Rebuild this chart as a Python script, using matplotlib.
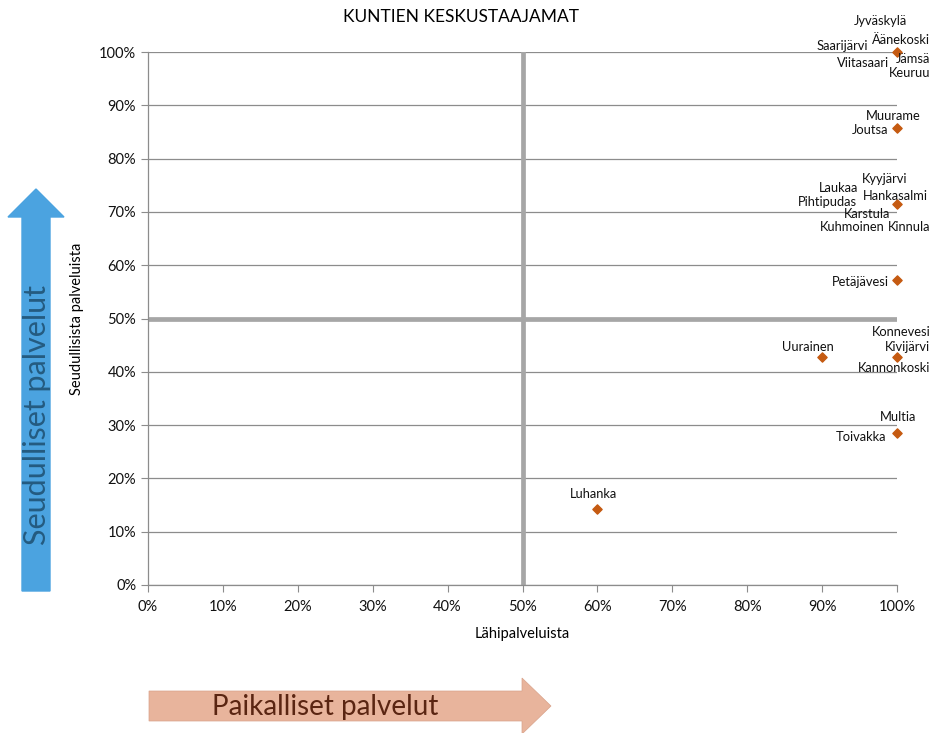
import matplotlib
matplotlib.use("Agg")
import matplotlib.pyplot as plt
from matplotlib.patches import FancyArrow
from matplotlib.ticker import PercentFormatter

plt.rcParams['font.family'] = ['Lato', 'DejaVu Sans']

# Data (percent)
points_x = [100, 100, 100, 100, 90, 100, 100, 60]
points_y = [100, 600/7, 500/7, 400/7, 300/7, 300/7, 200/7, 100/7]

# labels: (name, point index, dx, dy in points, ha)
labels = [
    ("Jyväskylä", 0, -12, 22, "center"),
    ("Äänekoski", 0, 24, 9, "right"),
    ("Saarijärvi", 0, -21, 4, "right"),
    ("Jämsä", 0, 24, -5, "right"),
    ("Viitasaari", 0, -6, -8, "right"),
    ("Keuruu", 0, 24, -15, "right"),
    ("Muurame", 1, -3, 9, "center"),
    ("Joutsa", 1, -6, -1, "right"),
    ("Kyyjärvi", 2, -9, 18, "center"),
    ("Laukaa", 2, -28, 12, "right"),
    ("Hankasalmi", 2, 22, 6, "right"),
    ("Pihtipudas", 2, -29, 2, "right"),
    ("Karstula", 2, -5, -7, "right"),
    ("Kuhmoinen", 2, -9, -16, "right"),
    ("Kinnula", 2, 24, -16, "right"),
    ("Petäjävesi", 3, -6, -1, "right"),
    ("Konnevesi", 5, 24, 18, "right"),
    ("Kivijärvi", 5, 24, 7, "right"),
    ("Kannonkoski", 5, 24, -8, "right"),
    ("Uurainen", 4, -10, 7, "center"),
    ("Multia", 6, -12, 11, "left"),
    ("Toivakka", 6, -8, -3, "right"),
    ("Luhanka", 7, -3, 11, "center"),
]

x_ticks = list(range(0, 101, 10))
y_ticks = list(range(0, 101, 10))

W, H = 934, 733
fig = plt.figure(figsize=(W/100, H/100), dpi=100)
ax = fig.add_axes([148/W, (H-585)/H, 749/W, 533/H])

ax.set_xlim(0, 100)
ax.set_ylim(0, 100)
ax.set_xticks(x_ticks)
ax.set_yticks(y_ticks)
ax.xaxis.set_major_formatter(PercentFormatter(decimals=0))
ax.yaxis.set_major_formatter(PercentFormatter(decimals=0))
ax.tick_params(axis='both', labelsize=10.5, color='#8c8c8c', length=5, direction='out', labelcolor='#111111')
ax.tick_params(axis='x', pad=6)
ax.grid(axis='y', color='#8c8c8c', linewidth=0.9)
ax.set_axisbelow(True)
for s in ['top', 'right']:
    ax.spines[s].set_visible(False)
for s in ['left', 'bottom']:
    ax.spines[s].set_color('#8c8c8c')
    ax.spines[s].set_linewidth(0.9)

# quadrant lines
ax.axvline(50, color='#a6a6a6', linewidth=3.4, zorder=2)
ax.axhline(50, color='#a6a6a6', linewidth=3.4, zorder=2)

ax.scatter(points_x, points_y, marker='D', s=22, color='#c55a11', zorder=4, clip_on=False)

for name, i, dx, dy, ha in labels:
    ax.annotate(name, (points_x[i], points_y[i]), xytext=(dx, dy), textcoords='offset points',
                ha=ha, va='center', fontsize=9.3, color='#111111', annotation_clip=False, zorder=5)

ax.set_xlabel("Lähipalveluista", fontsize=10.5, labelpad=9)
ax.set_ylabel("Seudullisista palveluista", fontsize=10.5, labelpad=11)
fig.text(461/W, 1-17/H, "KUNTIEN KESKUSTAAJAMAT", ha='center', va='center', fontsize=12.5)

def fx(px): return px / W
def fy(py): return 1 - py / H

blue = FancyArrow(fx(36), fy(591), 0, fy(189) - fy(591), width=28/W, head_width=56/W,
                  head_length=28/H, length_includes_head=True, transform=fig.transFigure,
                  color='#4ba3e0', zorder=0)
fig.patches.append(blue)
fig.text(fx(37), fy(415), "Seudulliset palvelut", rotation=90, ha='center', va='center',
         fontsize=22, color='#245b80')

orange = FancyArrow(fx(149), fy(706), fx(551) - fx(149), 0, width=30/H, head_width=56/H,
                    head_length=29/W, length_includes_head=True, transform=fig.transFigure,
                    color='#e8b49c', ec='#d9a28a', lw=0.5, zorder=0)
fig.patches.append(orange)
fig.text(fx(325), fy(707), "Paikalliset palvelut", ha='center', va='center',
         fontsize=20, color='#5a2512')

fig.savefig("out.png", dpi=100)
